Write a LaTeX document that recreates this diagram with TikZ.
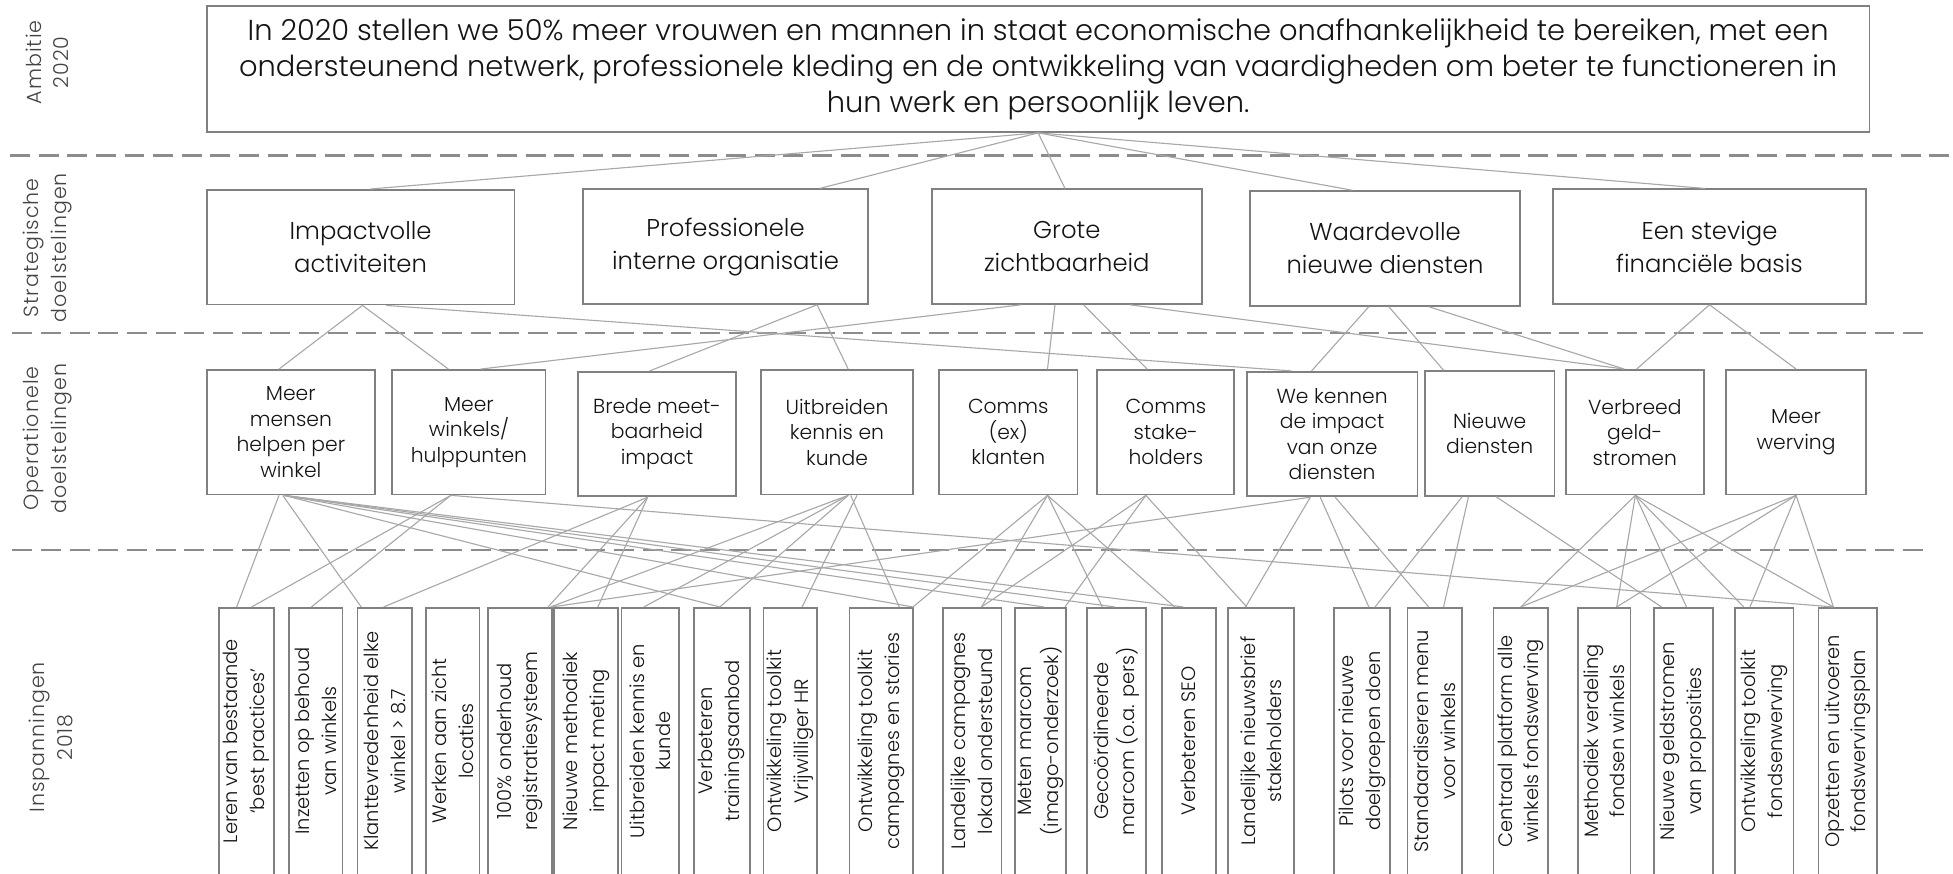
\documentclass[tikz,border=0pt]{standalone}
\usepackage{fontspec}
\IfFontExistsTF{Poppins Light}{\setmainfont{Poppins Light}}{\setmainfont{Poppins}}
\definecolor{boxgray}{HTML}{808080}
\definecolor{linegray}{HTML}{A8A8A8}
\definecolor{dashgray}{HTML}{8C8C8C}
\definecolor{txt}{HTML}{141414}
\newcommand{\cn}[4]{\draw[conn] ([xshift=#2]#1.south) -- ([xshift=#4]#3.north);}
\newcommand{\ibx}[4]{%
  \node[ibox, minimum width={#3-#2}] (#1) at ({(#2+#3)/2},595) {};
  \node[itext] (#1t) at (#1.center) {#4};}
\begin{document}
\begin{tikzpicture}[x=1pt,y=-1pt,
  box/.style={draw=boxgray, line width=1.4pt, fill=white, inner sep=0pt, align=center, text=txt},
  topbox/.style={box, font=\fontsize{23.2}{29}\selectfont},
  sbox/.style={box, minimum height=92, font=\fontsize{19.5}{26.5}\selectfont},
  obox/.style={box, minimum height=100, font=\fontsize{16.3}{20.5}\selectfont},
  ibox/.style={box, minimum height=214},
  itext/.style={rotate=90, align=center, text=txt, inner sep=0pt, font=\fontsize{15.6}{21.5}\selectfont},
  lab/.style={rotate=90, align=center, text=txt!80, inner sep=0pt, font=\fontsize{16.5}{22}\selectfont\addfontfeatures{LetterSpace=5}},
  conn/.style={draw=linegray, line width=0.9pt},
  sep/.style={draw=dashgray, line width=2pt, dash pattern=on 16pt off 7pt}]
\useasboundingbox (0,0) rectangle (1568,701);
\clip (0,0) rectangle (1568,701);

% separators
\draw[sep] (8,125) -- (1568,125);
\draw[sep] (10,267.5) -- (1550,267.5);
\draw[sep] (10,441.5) -- (1550,441.5);

% row labels
\node[lab] (l1) at (38,50) {Ambitie\\2020};
\node[lab] (l2) at (38,199) {Strategische\\doelstelingen};
\node[lab] (l3) at (38,352) {Operationele\\doelstelingen};
\node[lab] (l4) at (41,592) {Inspanningen\\2018};

% ambition
\node[topbox, minimum width=1335, minimum height=101] (top) at (833.5,55.5)
 {In 2020 stellen we 50\% meer vrouwen en mannen in staat economische onafhankelijkheid te bereiken, met een\\
  ondersteunend netwerk, professionele kleding en de ontwikkeling van vaardigheden om beter te functioneren in\\
  hun werk en persoonlijk leven.};

% strategic
\node[sbox, minimum width=247] (s1) at (289.5,198.5) {Impactvolle\\activiteiten};
\node[sbox, minimum width=229] (s2) at (582.5,198) {Professionele\\interne organisatie};
\node[sbox, minimum width=217] (s3) at (856.5,198) {Grote\\zichtbaarheid};
\node[sbox, minimum width=217] (s4) at (1112,199.5) {Waardevolle\\nieuwe diensten};
\node[sbox, minimum width=251] (s5) at (1372.5,198) {Een stevige\\financiële basis};

% operational
\node[obox, minimum width=135] (o1) at (233.5,347) {Meer\\mensen\\helpen per\\winkel};
\node[obox, minimum width=123] (o2) at (376.5,347) {Meer\\winkels/\\hulppunten};
\node[obox, minimum width=127] (o3) at (527.5,348.5) {Brede meet-\\baarheid\\impact};
\node[obox, minimum width=122] (o4) at (672,347) {Uitbreiden\\kennis en\\kunde};
\node[obox, minimum width=111] (o5) at (809.5,347) {Comms\\(ex)\\klanten};
\node[obox, minimum width=110] (o6) at (936,347) {Comms\\stake-\\holders};
\node[obox, minimum width=137] (o7) at (1069.5,348.5) {We kennen\\de impact\\van onze\\diensten};
\node[obox, minimum width=104] (o8) at (1196,348) {Nieuwe\\diensten};
\node[obox, minimum width=111] (o9) at (1312.5,347) {Verbreed\\geld-\\stromen};
\node[obox, minimum width=112] (o10) at (1442,347) {Meer\\werving};

% efforts
\ibx{b1}{176}{220}{Leren van  bestaande\\‘best practices’}
\ibx{b2}{232}{275}{Inzetten op behoud\\van winkels}
\ibx{b3}{287}{331}{Klanttevredenheid elke\\winkel > 8.7}
\ibx{b4}{342}{385}{Werken aan zicht\\locaties}
\ibx{b5}{392}{443}{100\% onderhoud\\registratiesysteem}
\ibx{b6}{445}{496}{Nieuwe methodiek\\impact meting}
\ibx{b7}{499}{545}{Uitbreiden kennis en\\kunde}
\ibx{b8}{557}{602}{Verbeteren\\trainingsaanbod}
\ibx{b9}{613}{656}{Ontwikkeling toolkit\\Vrijwilliger HR}
\ibx{b10}{682}{733}{Ontwikkeling toolkit\\campagnes en stories}
\ibx{b11}{757}{804}{Landelijke campagnes\\lokaal ondersteund}
\ibx{b12}{815}{856}{Meten marcom\\(imago-onderzoek)}
\ibx{b13}{873}{920}{Gecoördineerde\\marcom (o.a. pers)}
\ibx{b14}{933}{976}{Verbeteren SEO}
\ibx{b15}{986}{1039}{Landelijke nieuwsbrief\\stakeholders}
\ibx{b16}{1071}{1116}{Pilots voor nieuwe\\doelgroepen doen}
\ibx{b17}{1130}{1174}{Standaardiseren menu\\voor winkels}
\ibx{b18}{1199}{1243}{Centraal platform alle\\winkels fondswerving}
\ibx{b19}{1267}{1309}{Methodiek verdeling\\fondsen winkels}
\ibx{b20}{1328}{1375}{Nieuwe geldstromen\\van proposities}
\ibx{b21}{1393}{1440}{Ontwikkeling toolkit\\fondsenwerving}
\ibx{b22}{1460}{1507}{Opzetten en uitvoeren\\fondswervingsplan}

% ambition -> strategic
\cn{top}{0}{s1}{7.5}
\cn{top}{0}{s2}{75.5}
\cn{top}{0}{s3}{-1.5}
\cn{top}{0}{s4}{-26}
\cn{top}{0}{s5}{-3.5}

% strategic -> operational
\cn{s1}{1.5}{o1}{-9.5}
\cn{s1}{1.5}{o2}{-16.5}
\cn{s1}{20.5}{o7}{-32.5}
\cn{s2}{73.5}{o3}{-6}
\cn{s2}{73.5}{o4}{9}
\cn{s3}{-36.5}{o2}{9.5}
\cn{s3}{-9.5}{o5}{31.5}
\cn{s3}{13.5}{o6}{-15}
\cn{s3}{50.5}{o9}{-8.5}
\cn{s4}{-13}{o7}{-16.5}
\cn{s4}{3}{o8}{-37}
\cn{s4}{35}{o9}{-8.5}
\cn{s5}{0}{o9}{1.5}
\cn{s5}{0}{o10}{0}

% operational -> efforts
\cn{o1}{-9.5}{b1}{-8}
\cn{o1}{-6.5}{b3}{-19}
\cn{o1}{-5.5}{b8}{-1.5}
\cn{o1}{-5.5}{b10}{25.5}
\cn{o1}{-5.5}{b12}{2.5}
\cn{o1}{-5.5}{b13}{-1.5}
\cn{o1}{-5.5}{b14}{-4.5}
\cn{o2}{-14.5}{b1}{4}
\cn{o2}{-14.5}{b2}{-3.5}
\cn{o2}{-14.5}{b22}{-11.5}
\cn{o3}{-7.5}{b3}{-1}
\cn{o3}{-7.5}{b5}{22.5}
\cn{o3}{-7.5}{b6}{9.5}
\cn{o4}{9}{b5}{24.5}
\cn{o4}{9}{b7}{-5}
\cn{o4}{9}{b8}{-1.5}
\cn{o4}{16}{b9}{9.5}
\cn{o4}{11}{b10}{14.5}
\cn{o5}{31.5}{b10}{25.5}
\cn{o5}{31.5}{b11}{7.5}
\cn{o5}{31.5}{b13}{-11.5}
\cn{o5}{31.5}{b14}{-11.5}
\cn{o6}{-16}{b11}{7.5}
\cn{o6}{-16}{b12}{19.5}
\cn{o6}{-16}{b15}{-11.5}
\cn{o7}{-17.5}{b5}{25.5}
\cn{o7}{-17.5}{b15}{-12.5}
\cn{o7}{-9.5}{b16}{5.5}
\cn{o7}{2.5}{b17}{-5}
\cn{o8}{-22}{b16}{10.5}
\cn{o8}{-17}{b17}{7}
\cn{o8}{5}{b20}{-17.5}
\cn{o9}{0.5}{b18}{0}
\cn{o9}{0.5}{b19}{10}
\cn{o9}{0.5}{b20}{2.5}
\cn{o9}{0.5}{b21}{-16.5}
\cn{o9}{0.5}{b22}{-11.5}
\cn{o10}{0}{b18}{0}
\cn{o10}{0}{b19}{10}
\cn{o10}{0}{b21}{-11.5}
\cn{o10}{0}{b22}{-11.5}
\end{tikzpicture}
\end{document}
